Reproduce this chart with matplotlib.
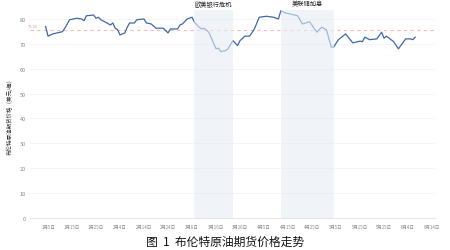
import matplotlib
matplotlib.use("Agg")
import matplotlib.pyplot as plt
import numpy as np
import pandas as pd

plt.rcParams['font.family'] = ['Noto Sans CJK SC', 'DejaVu Sans']

# Brent futures price (USD/barrel)
dates = ["01-04", "01-05", "01-07", "01-11", "01-12", "01-13", "01-14", "01-17",
         "01-19", "01-20", "01-21", "01-24", "01-25", "01-26", "01-27", "01-29",
         "01-31", "02-01", "02-02", "02-03", "02-04", "02-06", "02-07", "02-08",
         "02-10", "02-11", "02-14", "02-15", "02-17", "02-19", "02-22", "02-24",
         "02-25", "02-28", "03-01", "03-02", "03-04", "03-06", "03-07", "03-09",
         "03-10", "03-11", "03-13", "03-16", "03-17", "03-18", "03-20", "03-21",
         "03-23", "03-25", "03-26", "03-28", "03-30", "04-01", "04-03", "04-06",
         "04-09", "04-11", "04-12", "04-14", "04-16", "04-19", "04-21", "04-24",
         "04-27", "04-29", "05-01", "05-03", "05-04", "05-06", "05-09", "05-12",
         "05-15", "05-16", "05-17", "05-19", "05-22", "05-24", "05-25", "05-26",
         "05-29", "05-31", "06-03", "06-05", "06-06", "06-07"]
prices = [77.0, 73.1, 74.0, 74.9, 76.3, 78.0, 79.7, 80.3,
          80.0, 79.3, 81.3, 81.6, 80.3, 80.7, 79.7, 78.7,
          77.6, 78.4, 76.3, 75.7, 73.6, 74.4, 76.7, 78.4,
          78.4, 79.7, 80.0, 78.4, 78.0, 76.3, 76.3, 74.4,
          76.0, 76.0, 77.6, 78.0, 80.0, 80.7, 78.7, 76.7,
          76.0, 76.3, 74.7, 68.0, 68.3, 66.9, 67.3, 68.0,
          71.3, 69.3, 71.3, 73.1, 73.1, 76.0, 80.7, 81.1,
          80.7, 80.0, 83.3, 82.4, 82.0, 81.3, 78.0, 78.9,
          74.7, 76.7, 75.7, 68.7, 68.7, 71.7, 74.0, 70.4,
          71.1, 70.9, 72.7, 71.7, 72.0, 74.7, 72.3, 73.1,
          70.9, 68.0, 72.0, 72.0, 71.7, 72.7]
mean_price = 75.65

events = ["欧美银行危机", "美联储加息"]
event_start = ["03-07", "04-12"]
event_end = ["03-23", "05-04"]

x = pd.to_datetime(["2023-" + d for d in dates])
ticks = pd.date_range("2023-01-05", "2023-06-14", freq="10D")

fig = plt.figure(figsize=(4.5, 2.51), dpi=100)
ax = fig.add_axes([0.0667, 0.1275, 0.9, 0.8285])

ax.plot(x, prices, color='#3e68a6', lw=0.9, zorder=2)

for name, s, e in zip(events, event_start, event_end):
    s = pd.Timestamp("2023-" + s)
    e = pd.Timestamp("2023-" + e)
    ax.axvspan(s, e, color='#e6edf5', alpha=0.6, lw=0, zorder=3)
    ax.text(s + (e - s) / 2, 1.012, name, transform=ax.get_xaxis_transform(),
            ha='center', va='bottom', fontsize=4.5, color='#222222', fontweight='medium')

ax.axhline(mean_price, color='#f5b8b8', lw=0.8, ls=(0, (3, 3)), zorder=1)
ax.text(-0.005, mean_price + 0.6, f"{mean_price:.2f}", transform=ax.get_yaxis_transform(),
        ha='left', va='bottom', fontsize=3, color='#d9a0a0')

ax.set_ylim(0, 83.6)
ax.set_xlim(pd.Timestamp("2022-12-28 12:00"), pd.Timestamp("2023-06-15 06:00"))
ax.set_yticks(np.arange(0, 81, 10))
ax.set_xticks(ticks)
ax.set_xticklabels([f"{t.month}月{t.day}日" for t in ticks])
ax.grid(axis='y', color='#f2f2f2', lw=0.6)
ax.set_axisbelow(True)
for sp in ['top', 'right', 'left']:
    ax.spines[sp].set_visible(False)
ax.spines['bottom'].set_color('#e0e0e0')
ax.spines['bottom'].set_linewidth(0.6)
ax.tick_params(axis='both', length=0, labelsize=4, colors='#888888', pad=3)
ax.tick_params(axis='x', labelsize=3.2, pad=4)

ax.set_ylabel("布伦特原油期货价格（美元/桶）", fontsize=4, color='#333333', labelpad=5)

fig.text(0.5, 0.035, "图  1  布伦特原油期货价格走势", ha='center', va='center',
         fontsize=8.5, color='#111111')

fig.savefig("out.png", dpi=100)
